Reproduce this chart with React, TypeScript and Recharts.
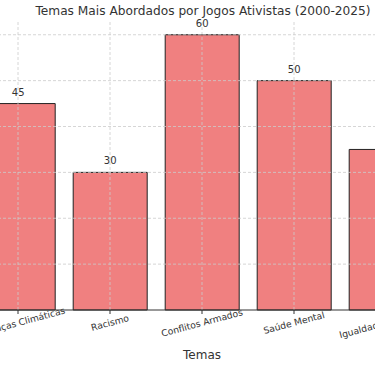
import React from 'react';
import { BarChart, Bar, XAxis, YAxis, ReferenceLine, LabelList } from 'recharts';

const categories = ['Mudanças Climáticas', 'Racismo', 'Conflitos Armados', 'Saúde Mental', 'Igualdade de Gênero'];
const values = [45, 30, 60, 50, 35];
const yTicks = [10, 20, 30, 40, 50, 60];

const data = categories.map((c, i) => ({ tema: c, valor: values[i] }));
const FONT = '"DejaVu Sans", sans-serif';

const Tick = (props: any) => {
  const { x, y, payload } = props;
  return (
    <g transform={`translate(${x},${y + 7})`}>
      <text transform="rotate(-15)" textAnchor="middle" fontSize={9.2} fill="#333" fontFamily={FONT} dy={3}>
        {payload.value}
      </text>
    </g>
  );
};

export default function App() {
  return (
    <div style={{ position: 'fixed', left: 0, top: 0, width: 375, height: 366, overflow: 'hidden', background: '#fff' }}>
      <div style={{ position: 'absolute', left: -37, top: 0 }}>
        <BarChart width={478} height={366} data={data} margin={{ top: 21, right: 0, bottom: 5, left: 0 }} barCategoryGap="10%">
          <YAxis hide domain={[0, 63]} type="number" />
          <XAxis
            dataKey="tema"
            height={51}
            padding={{ left: 9, right: 9 }}
            tick={<Tick />}
            tickSize={4}
            tickLine={{ stroke: '#333' }}
            axisLine={{ stroke: '#333' }}
            interval={0}
            label={{ value: 'Temas', position: 'insideBottom', offset: 2, fontSize: 12, fill: '#333', fontFamily: FONT }}
          />
          <Bar dataKey="valor" fill="#F08080" stroke="#222" strokeWidth={1} isAnimationActive={false}>
            <LabelList dataKey="valor" position="top" offset={8} fontSize={10} fill="#333" fontFamily={FONT} />
          </Bar>
          {yTicks.map((t) => (
            <ReferenceLine key={'y' + t} y={t} stroke="#ccc" strokeDasharray="3 2" strokeWidth={0.8} />
          ))}
          {categories.map((c) => (
            <ReferenceLine key={'x' + c} x={c} stroke="#ccc" strokeDasharray="3 2" strokeWidth={0.8} />
          ))}
        </BarChart>
      </div>
      <div style={{ position: 'absolute', left: 203, top: 4, transform: 'translateX(-50%)', whiteSpace: 'nowrap', fontFamily: FONT, fontSize: 12.2, color: '#333' }}>
        Temas Mais Abordados por Jogos Ativistas (2000-2025)
      </div>
    </div>
  );
}
